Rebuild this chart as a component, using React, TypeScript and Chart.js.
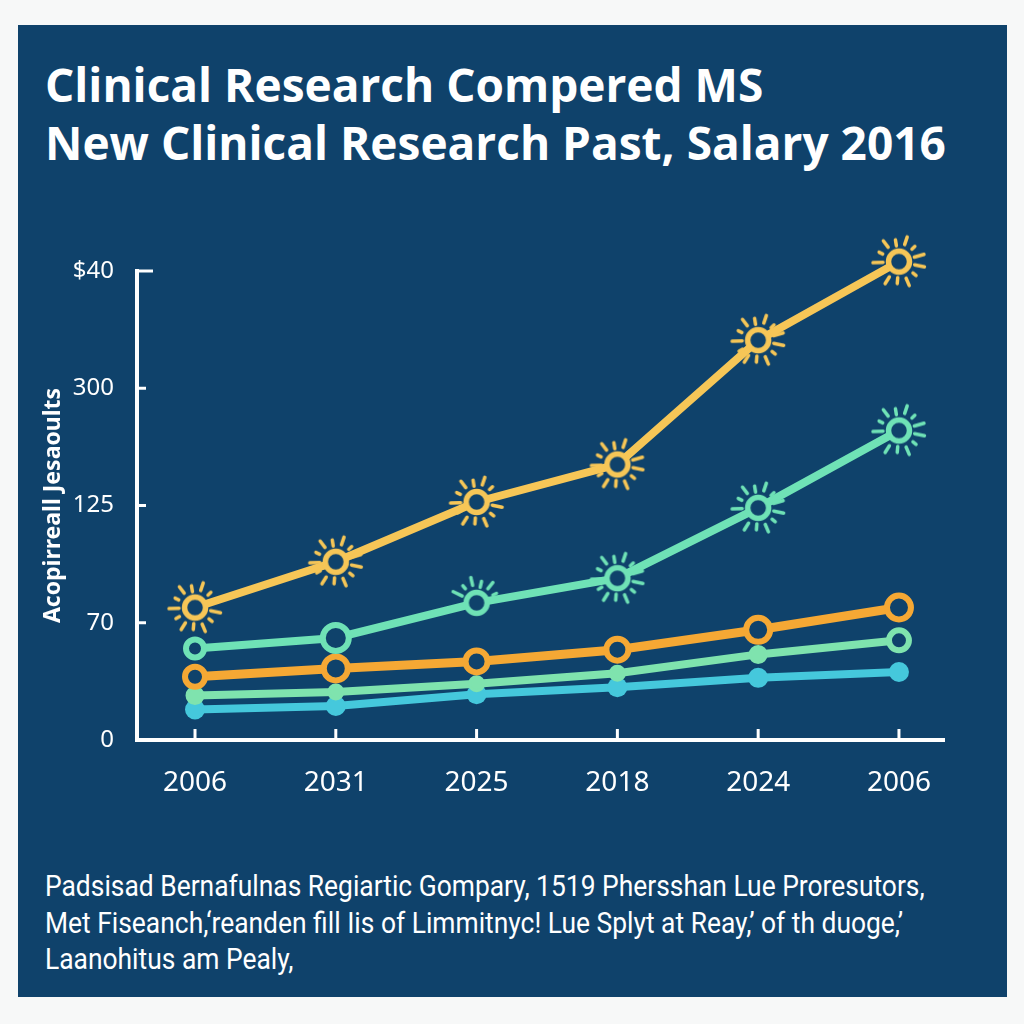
import React, { useEffect, useRef } from "react";
import { Chart, registerables } from "chart.js";

Chart.register(...registerables);

// ---- data ----
const categories = ["2006", "2031", "2025", "2018", "2024", "2006"];
const yTickLabels = ["0", "70", "125", "300", "$40"];
const yellowSeries = [1.13, 1.52, 2.03, 2.35, 3.41, 4.08];
const mintSeries = [0.78, 0.87, 1.17, 1.38, 1.98, 2.64];
const orangeSeries = [0.54, 0.61, 0.67, 0.77, 0.94, 1.13];
const lightGreenSeries = [0.38, 0.41, 0.48, 0.57, 0.73, 0.85];
const cyanSeries = [0.26, 0.29, 0.39, 0.45, 0.53, 0.58];

const titleLines = ["Clinical Research Compered MS", "New Clinical Research Past, Salary 2016"];
const yAxisTitle = "Acopirreall Jesaoults";
const footerLines = [
  "Padsisad Bernafulnas Regiartic Gompary, 1519 Phersshan Lue Proresutors,",
  "Met Fiseanch,\u2018reanden fill Iis of Limmitnyc! Lue Splyt at Reay,\u2019 of th duoge,\u2019",
  "Laanohitus am Pealy,",
];

const NAVY = "#0f426b";
const YELLOW = "#f6c657";
const MINT = "#6fe2b6";
const ORANGE = "#f5a834";
const LGREEN = "#7fe3ae";
const CYAN = "#45c8dc";

function makeSun(color: string, rays: boolean, full: boolean): HTMLCanvasElement {
  const c = document.createElement("canvas");
  c.width = 64;
  c.height = 64;
  const ctx = c.getContext("2d")!;
  const cx = 32, cy = 32;
  ctx.strokeStyle = color;
  ctx.lineCap = "round";
  if (rays) {
    const n = full ? 13 : 6;
    for (let k = 0; k < n; k++) {
      const a = full ? (k / n) * Math.PI * 2 + 0.2 : -Math.PI / 2 + (k - 2.5) * 0.45;
      const outer = k % 2 === 0 ? 26 : 22;
      const inner = k % 3 === 0 ? 16 : 18;
      ctx.lineWidth = 3.5;
      ctx.beginPath();
      ctx.moveTo(cx + Math.cos(a) * inner, cy + Math.sin(a) * inner);
      ctx.lineTo(cx + Math.cos(a) * outer, cy + Math.sin(a) * outer);
      ctx.stroke();
    }
  }
  ctx.beginPath();
  ctx.arc(cx, cy, 10.5, 0, Math.PI * 2);
  ctx.fillStyle = NAVY;
  ctx.fill();
  ctx.lineWidth = 5.5;
  ctx.stroke();
  return c;
}

export default function App() {
  const ref = useRef<HTMLCanvasElement | null>(null);

  useEffect(() => {
    document.body.style.margin = "0";
    const canvas = ref.current!;
    const sunY = makeSun(YELLOW, true, true);
    const sunM = makeSun(MINT, true, true);
    const sunMPartial = makeSun(MINT, true, false);

    const toXY = (arr: number[]) => arr.map((v, i) => ({ x: i, y: v }));

    const axesPlugin = {
      id: "axesPlugin",
      afterDatasetsDraw(chart: any) {
        const { ctx, chartArea, scales } = chart;
        ctx.save();
        ctx.strokeStyle = "#ffffff";
        ctx.lineWidth = 4;
        ctx.lineCap = "butt";
        const l = chartArea.left;
        const b = chartArea.bottom;
        const t = scales.y.getPixelForValue(4);
        ctx.beginPath();
        ctx.moveTo(l, b + 2);
        ctx.lineTo(l, t - 2);
        ctx.stroke();
        ctx.beginPath();
        ctx.moveTo(l - 2, b);
        ctx.lineTo(chartArea.right, b);
        ctx.stroke();
        ctx.lineWidth = 3;
        yTickLabels.forEach((_, i) => {
          if (i === 0) return;
          const py = scales.y.getPixelForValue(i);
          ctx.beginPath();
          ctx.moveTo(l, py);
          ctx.lineTo(l + (i === yTickLabels.length - 1 ? 16 : 9), py);
          ctx.stroke();
        });
        categories.forEach((_, i) => {
          const px = scales.x.getPixelForValue(i);
          ctx.beginPath();
          ctx.moveTo(px, b);
          ctx.lineTo(px, b - 11);
          ctx.stroke();
        });
        ctx.restore();
      },
    };

    const chart = new Chart(canvas, {
      type: "line",
      data: {
        datasets: [
          {
            label: "yellow",
            data: toXY(yellowSeries),
            borderColor: YELLOW,
            borderWidth: 8,
            pointStyle: yellowSeries.map(() => sunY) as any,
            clip: false as any,
          },
          {
            label: "mint",
            data: toXY(mintSeries),
            borderColor: MINT,
            borderWidth: 8,
            pointStyle: ["circle", "circle", sunMPartial, sunM, sunM, sunM] as any,
            pointRadius: [9, 13, 12, 12, 12, 12],
            pointBorderWidth: 6,
            pointBackgroundColor: NAVY,
            pointBorderColor: MINT,
            clip: false as any,
          },
          {
            label: "orange",
            data: toXY(orangeSeries),
            borderColor: ORANGE,
            borderWidth: 9,
            pointStyle: "circle",
            pointRadius: [10, 12, 11, 11, 12, 12],
            pointBorderWidth: 6,
            pointBackgroundColor: NAVY,
            pointBorderColor: ORANGE,
            clip: false as any,
          },
          {
            label: "lightgreen",
            data: toXY(lightGreenSeries),
            borderColor: LGREEN,
            borderWidth: 8,
            pointStyle: "circle",
            pointRadius: [8, 7, 7, 7, 8, 10],
            pointBorderWidth: [3, 3, 3, 3, 3, 6],
            pointBackgroundColor: [LGREEN, LGREEN, LGREEN, LGREEN, LGREEN, NAVY],
            pointBorderColor: LGREEN,
            clip: false as any,
          },
          {
            label: "cyan",
            data: toXY(cyanSeries),
            borderColor: CYAN,
            borderWidth: 8,
            pointStyle: "circle",
            pointRadius: 10,
            pointBorderWidth: 0,
            pointBackgroundColor: CYAN,
            pointBorderColor: CYAN,
            clip: false as any,
          },
        ],
      },
      options: {
        animation: false,
        responsive: false,
        events: [],
        layout: { padding: { left: 20, right: 62, top: 66, bottom: 5 } },
        plugins: {
          legend: { display: false },
          tooltip: { enabled: false },
        },
        scales: {
          x: {
            type: "linear",
            min: -0.412,
            max: 5.327,
            grid: { display: false, drawTicks: false },
            border: { display: false },
            afterBuildTicks: (scale: any) => {
              scale.ticks = categories.map((_, i) => ({ value: i }));
            },
            afterFit: (scale: any) => {
              scale.height = 60;
            },
            ticks: {
              color: "#ffffff",
              padding: 26,
              maxRotation: 0,
              autoSkip: false,
              font: { family: "'Noto Sans', sans-serif", size: 28 },
              callback: (v: any) => categories[Math.round(Number(v))] ?? "",
            },
          },
          y: {
            type: "linear",
            min: 0,
            max: 4,
            grid: { display: false, drawTicks: false },
            border: { display: false },
            afterBuildTicks: (scale: any) => {
              scale.ticks = yTickLabels.map((_, i) => ({ value: i }));
            },
            afterFit: (scale: any) => {
              scale.width = 99;
            },
            ticks: {
              color: "#ffffff",
              padding: 23,
              font: { family: "'Noto Sans', sans-serif", size: 24 },
              callback: (v: any) => yTickLabels[Math.round(Number(v))] ?? "",
            },
            title: {
              display: true,
              text: yAxisTitle,
              color: "#ffffff",
              padding: { top: 2, bottom: 0 },
              font: { family: "'Noto Sans', sans-serif", size: 23, weight: "bold" },
            },
          },
        },
      },
      plugins: [axesPlugin],
    } as any);

    return () => chart.destroy();
  }, []);

  return (
    <div style={{ position: "fixed", left: 0, top: 0, width: 1024, height: 1024, background: "#f7f8f8" }}>
      <div style={{ position: "absolute", left: 18, top: 25, width: 989, height: 972, background: NAVY }}>
        <div
          style={{
            position: "absolute",
            left: 27,
            top: 30,
            color: "#ffffff",
            fontFamily: "'Open Sans', sans-serif",
            fontWeight: 700,
            fontSize: 46,
            lineHeight: "58px",
            whiteSpace: "nowrap",
          }}
        >
          {titleLines.map((t, i) => (
            <div key={i}>{t}</div>
          ))}
        </div>
        <canvas ref={ref} width={989} height={600} style={{ position: "absolute", left: 0, top: 180, width: 989, height: 600 }} />
        <div
          style={{
            position: "absolute",
            left: 27,
            top: 843,
            color: "#ffffff",
            fontFamily: "'Roboto', sans-serif",
            fontSize: 30,
            lineHeight: "36.5px",
            whiteSpace: "nowrap",
            transform: "scaleX(0.88)",
            transformOrigin: "left top",
          }}
        >
          {footerLines.map((t, i) => (
            <div key={i}>{t}</div>
          ))}
        </div>
      </div>
    </div>
  );
}
